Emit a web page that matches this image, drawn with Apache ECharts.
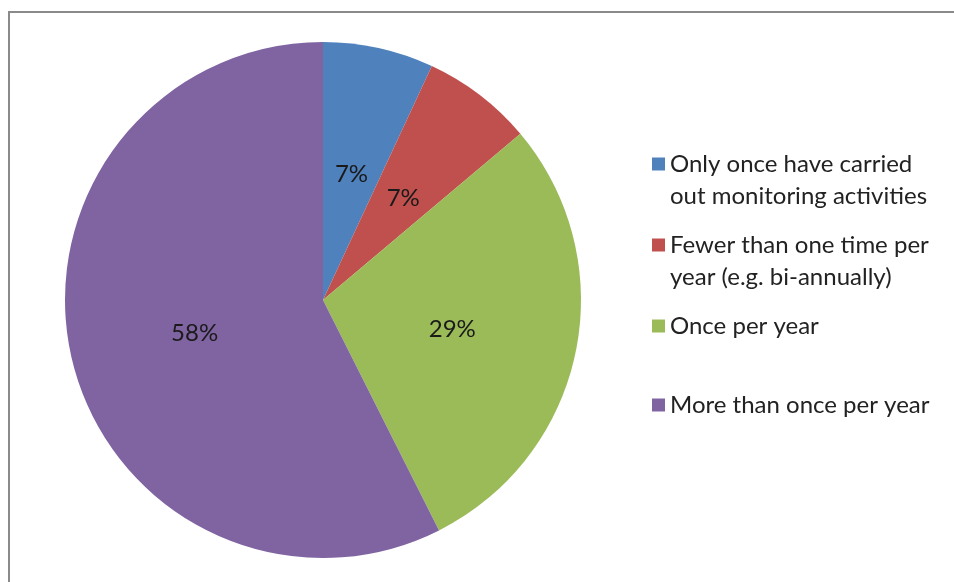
<!DOCTYPE html>
<html>
<head>
<meta charset="utf-8">
<script src="https://cdn.jsdelivr.net/npm/echarts@6/dist/echarts.min.js"></script>
<style>
  html, body { margin: 0; padding: 0; background: #fff; }
  #chart { width: 954px; height: 582px; }
</style>
</head>
<body>
<div id="chart"></div>
<script>
// Monitoring frequency categories and their shares (percent)
const categories = [
  'Only once have carried\nout monitoring activities',
  'Fewer than one time per\nyear (e.g. bi-annually)',
  'Once per year',
  'More than once per year'
];
const shares = [7, 7, 29, 58];
const colors = ['#4F81BD', '#C0504D', '#9BBB59', '#8064A2'];

const FONT = 'Lato';
const LINE_H = 32;

// one legend block per entry so each can sit at its own vertical slot;
// two-line names get a blank leading line so the marker lines up with line one
const legendTops = [116, 197, 310, 389];
const legends = categories.map((name, i) => {
  const twoLines = name.indexOf('\n') >= 0;
  return {
    data: [name],
    left: 652,
    top: legendTops[i],
    padding: 0,
    itemWidth: 13,
    itemHeight: 13,
    icon: 'rect',
    selectedMode: false,
    formatter: (n) => (twoLines ? ' \n' + n : n),
    textStyle: {
      fontFamily: FONT,
      fontSize: 24,
      color: '#222',
      lineHeight: LINE_H
    }
  };
});

const chart = echarts.init(document.getElementById('chart'));
chart.setOption({
  animation: false,
  backgroundColor: '#fff',
  color: colors,
  legend: legends,
  graphic: [{
    type: 'rect',
    shape: { x: 9, y: 12, width: 1200, height: 1200 },
    style: { fill: 'none', stroke: '#8a8a8a', lineWidth: 2 },
    silent: true
  }],
  series: [{
    type: 'pie',
    center: [323, 300],
    radius: 258,
    startAngle: 90,
    clockwise: true,
    data: categories.map((name, i) => ({ name: name, value: shares[i] })),
    itemStyle: { borderWidth: 0 },
    emphasis: { disabled: true },
    label: {
      position: 'inner',
      formatter: '{c}%',
      fontFamily: FONT,
      fontSize: 24,
      color: '#1a1a1a',
      offset: [0, 3]
    },
    labelLine: { show: false }
  }]
});
</script>
</body>
</html>
